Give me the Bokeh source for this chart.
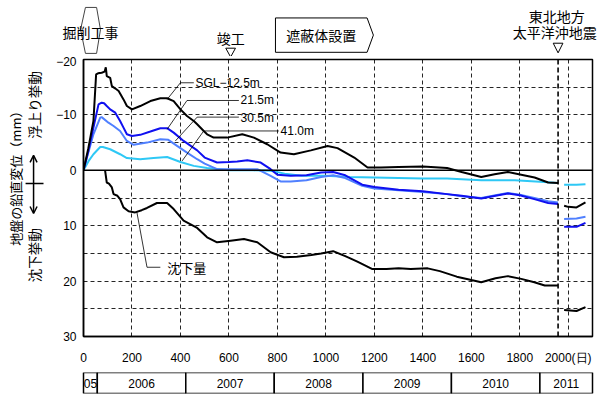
import math
from bokeh.plotting import figure
from bokeh.models import Range1d, FixedTicker, Span, Label, Arrow, OpenHead
from bokeh.layouts import column, row
from bokeh.embed import file_html
from bokeh.resources import INLINE

NaN = float("nan")

# ---- data (days since start, displacement mm; negative = heave) ----
sgl125_day = [0, 20, 41, 52, 60, 75, 87, 92, 96, 110, 117, 130, 145, 165, 179, 200, 234, 276, 317, 345, 372, 400,
              427, 455, 469, 496, 510, 537, 593, 655, 703, 758, 813, 868, 938, 1007, 1048, 1117, 1172, 1227, 1300,
              1400, 1500, 1560, 1641, 1696, 1751, 1806, 1861, 1917, 1958, NaN, 1983, 2000, 2034, 2071]
sgl125_val = [0, -4.0, -8.9, -17.3, -17.5, -17.6, -17.8, -18.6, -17.0, -16.7, -15.2, -14.8, -14.3, -12.8, -11.6,
              -11.0, -11.6, -12.5, -13.0, -13.0, -12.5, -11.0, -9.8, -8.9, -8.3, -7.1, -6.5, -5.9, -5.9, -6.5, -5.9,
              -4.7, -3.2, -2.9, -3.6, -4.4, -4.0, -2.3, -0.5, -0.5, -0.6, -0.7, -0.4, 0.3, 1.2, 0.7, 0.3, 0.8, 1.3,
              2.2, 2.3, NaN, 6.4, 6.6, 6.7, 5.8]

sgl215_day = [0, 20, 41, 62, 75, 85, 96, 110, 131, 151, 165, 179, 200, 234, 276, 317, 345, 372, 413, 469, 500, 551,
              600, 634, 676, 731, 772, 800, 855, 920, 980, 1030, 1080, 1150, 1200, 1300, 1400, 1500, 1560, 1641,
              1700, 1751, 1800, 1860, 1917, 1958, NaN, 1983, 2034, 2071]
sgl215_val = [0, -3.5, -7.7, -11.9, -12.2, -12.1, -11.6, -11.0, -10.4, -8.9, -7.7, -6.5, -6.2, -6.4, -7.0, -7.6,
              -7.6, -6.8, -5.3, -3.6, -2.3, -1.4, -1.5, -1.6, -1.8, -1.4, -0.2, 0.8, 1.0, 0.9, 0.4, 0.3, 0.9, 2.6,
              3.0, 3.5, 3.8, 4.3, 4.6, 5.1, 4.6, 4.2, 4.5, 5.2, 5.9, 6.1, NaN, 10.2, 10.2, 9.5]

sgl305_day = [0, 20, 41, 69, 75, 103, 124, 151, 179, 207, 262, 317, 350, 386, 427, 469, 500, 551, 607, 717, 772,
              813, 855, 920, 980, 1030, 1080, 1150, 1200, 1300, 1400, 1500, 1560, 1641, 1700, 1751, 1800, 1860,
              1917, 1958, NaN, 1983, 2034, 2071]
sgl305_val = [0, -3.2, -6.5, -9.5, -9.6, -8.6, -8.0, -7.1, -5.3, -4.6, -5.0, -5.6, -5.5, -4.4, -3.2, -2.0, -1.2,
              -0.2, -0.2, -0.2, 1.0, 2.0, 2.0, 1.8, 1.2, 0.9, 1.4, 2.8, 3.3, 3.6, 3.9, 4.3, 4.7, 5.0, 4.5, 4.1, 4.4,
              5.0, 5.6, 5.8, NaN, 8.8, 8.7, 8.4]

sgl410_day = [0, 20, 41, 69, 80, 110, 151, 179, 234, 289, 345, 400, 455, 510, 600, 700, 772, 830, 900, 1000, 1100,
              1200, 1300, 1400, 1500, 1641, 1779, 1900, 1958, NaN, 1983, 2034, 2071]
sgl410_val = [0, -1.6, -2.9, -4.2, -4.2, -3.8, -2.9, -2.2, -2.0, -2.2, -2.4, -1.5, -0.8, -0.4, 0.0, 0.0, 0.1, 0.6,
              1.0, 1.0, 1.2, 1.3, 1.4, 1.5, 1.5, 1.8, 1.8, 2.1, 2.3, NaN, 2.6, 2.6, 2.5]

settle_day = [89, 96, 105, 117, 124, 140, 151, 165, 186, 213, 240, 262, 303, 345, 372, 413, 440, 469, 510, 551, 607,
              662, 717, 772, 827, 880, 940, 980, 1030, 1080, 1130, 1190, 1250, 1300, 1350, 1420, 1470, 1540, 1600,
              1641, 1700, 1751, 1806, 1860, 1903, 1958, NaN, 1983, 2034, 2071]
settle_val = [0.0, 2.2, 2.4, 3.1, 4.3, 4.6, 5.2, 6.7, 7.4, 7.6, 7.2, 6.8, 5.9, 5.9, 7.0, 9.1, 9.7, 10.4, 12.1, 13.0,
              12.7, 12.4, 13.0, 14.8, 15.7, 15.6, 15.3, 15.0, 14.6, 15.5, 16.5, 17.8, 17.8, 17.7, 17.8, 17.7, 18.2,
              19.2, 19.8, 20.2, 19.5, 19.1, 19.6, 20.2, 20.8, 20.8, NaN, 25.2, 25.4, 24.7]

x_ticks = [0, 200, 400, 600, 800, 1000, 1200, 1400, 1600, 1800, 2000]
y_ticks = [-20, -10, 0, 10, 20, 30]
y_grid = [-15, -10, -5, 5, 10, 15, 20, 25]

year_labels = ["05", "2006", "2007", "2008", "2009", "2010", "2011"]
year_start = [0, 57, 422, 787, 1153, 1518, 1883]
year_end = [57, 422, 787, 1153, 1518, 1883, 2100]

excavation_start, excavation_end = 8, 54   # 掘削工事
completion_day = 607                        # 竣工
shield_start, shield_end = 792, 1170        # 遮蔽体設置
quake_day = 1958                            # 東北地方太平洋沖地震

JP = "Noto Sans CJK JP"
LAT = "Liberation Sans"

# ---- layout geometry (pixels) ----
W, LEFT_W = 603, 48
FRAME_L, FRAME_R = 83, 592
HEADER_H = 56
MAIN_TOP, FRAME_H, MAIN_BOTTOM = 3, 277, 32
X0, X1, Y_BOT, Y_TOP = 0, 2100, 30, -20
ppd = (FRAME_R - FRAME_L) / (X1 - X0)
ppm = FRAME_H / (Y_BOT - Y_TOP)
MAIN_H = MAIN_TOP + FRAME_H + MAIN_BOTTOM

def clean(fig):
    fig.grid.visible = False
    fig.outline_line_color = None
    fig.background_fill_color = "white"
    fig.border_fill_color = "white"

# ---- main chart ----
p = figure(width=W - LEFT_W, height=MAIN_H, x_range=Range1d(X0, X1), y_range=Range1d(Y_BOT, Y_TOP),
           output_backend="svg", toolbar_location=None,
           min_border_left=FRAME_L - LEFT_W, min_border_right=W - FRAME_R,
           min_border_top=MAIN_TOP, min_border_bottom=MAIN_BOTTOM)
p.background_fill_color = "white"
p.border_fill_color = "white"
p.outline_line_color = "black"
p.outline_line_width = 1.5

p.xaxis.ticker = FixedTicker(ticks=x_ticks)
p.yaxis.ticker = FixedTicker(ticks=y_ticks)
p.xaxis.major_label_overrides = {2000: "2000(日)"}
p.yaxis.major_label_overrides = {-20: "−20", -10: "−10"}
for ax in (p.xaxis, p.yaxis):
    ax.major_tick_line_color = None
    ax.minor_tick_line_color = None
    ax.major_tick_out = 0
    ax.major_tick_in = 0
    ax.minor_tick_out = 0
    ax.axis_line_color = "black"
    ax.axis_line_width = 1.5
    ax.major_label_text_font = LAT
    ax.major_label_text_font_size = "12px"
    ax.major_label_text_color = "black"
p.xaxis.major_label_standoff = 14
p.yaxis.major_label_standoff = 7

p.xgrid.ticker = FixedTicker(ticks=x_ticks[1:])
p.ygrid.ticker = FixedTicker(ticks=y_grid)
for g in (p.xgrid, p.ygrid):
    g.grid_line_color = "black"
    g.grid_line_dash = "4 3"
    g.grid_line_width = 1
    g.grid_line_alpha = 0.85

p.add_layout(Span(location=0, dimension="width", line_color="black", line_width=1.5))
p.add_layout(Span(location=quake_day, dimension="height", line_color="black", line_width=1.6, line_dash="5 3"))

p.line(sgl410_day, sgl410_val, line_color="#2EC8F5", line_width=2)
p.line(sgl305_day, sgl305_val, line_color="#5080FF", line_width=2)
p.line(sgl215_day, sgl215_val, line_color="#1010F0", line_width=2)
p.line(sgl125_day, sgl125_val, line_color="black", line_width=2)
p.line(settle_day, settle_val, line_color="black", line_width=2)

# leader lines
p.line([345, 400, 455], [-12.8, -15.8, -15.8], line_color="black", line_width=0.8)
p.line([345, 427, 641], [-7.4, -12.6, -12.6], line_color="black", line_width=0.8)
p.line([379, 469, 641], [-5.3, -9.6, -9.6], line_color="black", line_width=0.8)
p.line([407, 496, 806], [-1.7, -7.1, -7.1], line_color="black", line_width=0.8)
p.line([220, 262, 317], [7.5, 17.5, 17.5], line_color="black", line_width=0.8)

def lab(fig, x, y, t, font=LAT, size="12px", align="left", angle=0.0):
    fig.add_layout(Label(x=x, y=y, text=t, text_font=font, text_font_size=size, text_align=align,
                         text_baseline="middle", angle=angle, text_color="black"))

lab(p, 462, -15.8, "SGL−12.5m")
lab(p, 648, -12.6, "21.5m")
lab(p, 648, -9.4, "30.5m")
lab(p, 813, -7.1, "41.0m")
lab(p, 346, 17.5, "沈下量", font=JP, size="13px")

# ---- header (same day / mm scales, extended over the full width) ----
wide_x = Range1d(X0 - FRAME_L / ppd, X0 + (W - FRAME_L) / ppd)
h = figure(width=W, height=HEADER_H, x_range=wide_x,
           y_range=Range1d(Y_TOP - MAIN_TOP / ppm, Y_TOP - (MAIN_TOP + HEADER_H) / ppm),
           output_backend="svg", toolbar_location=None, x_axis_location=None, y_axis_location=None,
           min_border_left=0, min_border_right=0, min_border_top=0, min_border_bottom=0)
clean(h)
h.patch([excavation_start, excavation_end, excavation_end + 16, excavation_end, excavation_start,
         excavation_start - 20], [-29.4, -29.4, -25.4, -21.1, -21.1, -25.4],
        fill_color=None, line_color="#444444", line_width=1)
lab(h, 29, -24.9, "掘削工事", font=JP, size="14px", align="center")
lab(h, completion_day, -23.97, "竣工", font=JP, size="14px", align="center")
h.patch([completion_day - 20, completion_day + 20, completion_day], [-22.04, -22.04, -20.45],
        fill_color="white", line_color="black", line_width=1)
h.patch([shield_start, shield_end, shield_end + 26, shield_end, shield_start],
        [-27.5, -27.5, -24.4, -21.3, -21.3], fill_color="white", line_color="black", line_width=1)
lab(h, (shield_start + shield_end) / 2, -24.4, "遮蔽体設置", font=JP, size="14px", align="center")
lab(h, quake_day - 5, -27.9, "東北地方", font=JP, size="14px", align="center")
lab(h, quake_day - 14, -24.9, "太平洋沖地震", font=JP, size="14px", align="center")
h.patch([quake_day - 20, quake_day + 20, quake_day], [-22.94, -22.94, -21.2],
        fill_color="white", line_color="black", line_width=1)

# ---- left description column (shares the mm scale); texts start at their lower end ----
lf = figure(width=LEFT_W, height=MAIN_H,
            x_range=Range1d(X0 - FRAME_L / ppd, X0 - (FRAME_L - LEFT_W) / ppd), y_range=p.y_range,
            output_backend="svg", toolbar_location=None, x_axis_location=None, y_axis_location=None,
            min_border_left=0, min_border_right=0, min_border_top=MAIN_TOP, min_border_bottom=MAIN_BOTTOM)
clean(lf)
lab(lf, -280, 13.6, "地盤の鉛直変位（mm）", font=JP, size="13px", align="left", angle=math.pi / 2)
lab(lf, -206, -5.7, "浮上り挙動", font=JP, size="13.5px", align="left", angle=math.pi / 2)
lab(lf, -206, 20.2, "沈下挙動", font=JP, size="13.5px", align="left", angle=math.pi / 2)
lf.add_layout(Arrow(x_start=-206, y_start=-2.7, x_end=-206, y_end=7.8,
                    start=OpenHead(size=7, line_width=1.5), end=OpenHead(size=7, line_width=1.5),
                    line_width=1.5, line_color="black"))
lf.add_layout(Arrow(x_start=-239, y_start=2.4, x_end=-165, y_end=2.4, end=None, line_width=1.5,
                    line_color="black"))

# ---- year band (same wide x scale as the header) ----
b = figure(width=W, height=29, x_range=wide_x, y_range=Range1d(0, 1),
           output_backend="svg", toolbar_location=None, x_axis_location=None, y_axis_location=None,
           min_border_left=0, min_border_right=0, min_border_top=4, min_border_bottom=4)
clean(b)
b.quad(left=year_start, right=year_end, bottom=0, top=1, fill_color="white", line_color="black", line_width=1.5)
for s, e, t in zip(year_start, year_end, year_labels):
    lab(b, (s + e) / 2, 0.5, t, size="12px", align="center")

layout = column(h, row(lf, p, spacing=0), b, spacing=0)
open("out.html", "w").write(file_html(layout, INLINE))
